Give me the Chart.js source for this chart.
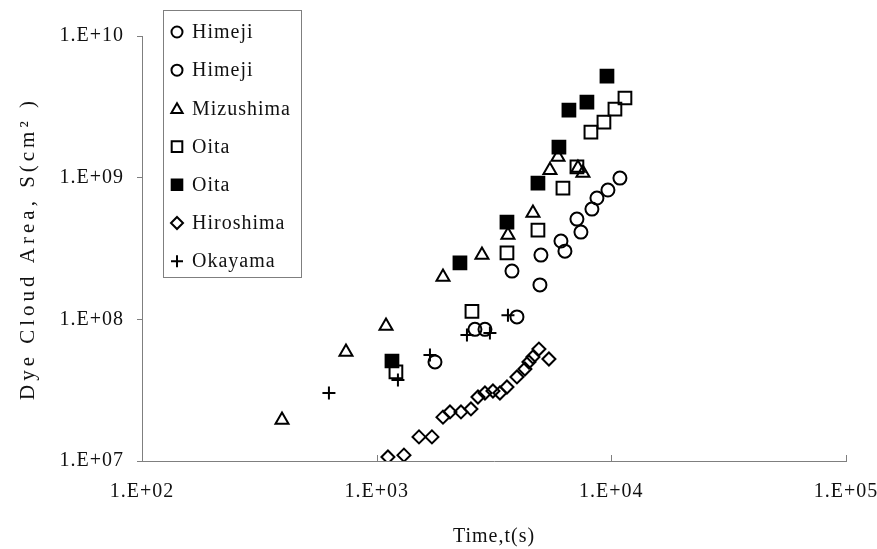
<!DOCTYPE html>
<html><head><meta charset="utf-8">
<script src="https://cdn.jsdelivr.net/npm/chart.js@4.4.0/dist/chart.umd.min.js"></script>
<style>html,body{margin:0;padding:0;background:#fff;}#wrap{width:877px;height:549px;position:relative;}</style>
</head><body><div id="wrap"><canvas id="c" width="877" height="549"></canvas></div>
<script>
// ---- data ----
const seriesNames = ['Himeji', 'Himeji', 'Mizushima', 'Oita', 'Oita', 'Hiroshima', 'Okayama'];

const himejiA_t = [1772, 2623, 2894, 3961];
const himejiA_S = [5.0e7, 8.5e7, 8.5e7, 1.04e8];

const himejiB_t = [3772, 4963, 5012, 6100, 6343, 7135, 7421, 8266, 8683, 9672, 10880];
const himejiB_S = [2.19e8, 1.75e8, 2.84e8, 3.57e8, 3.03e8, 5.10e8, 4.13e8, 6.0e8, 7.18e8, 8.18e8, 9.93e8];

const mizushima_t = [395, 740, 1096, 1917, 2810, 3626, 4634, 5475, 5923, 7206, 7568];
const mizushima_S = [1.95e7, 5.88e7, 8.97e7, 1.99e8, 2.84e8, 3.94e8, 5.62e8, 1.13e9, 1.40e9, 1.17e9, 1.08e9];

const oitaOpen_t = [1208, 2547, 3591, 4867, 6220, 7135, 8185, 9300, 10360, 11430];
const oitaOpen_S = [4.25e7, 1.14e8, 2.94e8, 4.27e8, 8.45e8, 1.19e9, 2.10e9, 2.47e9, 3.05e9, 3.65e9];

const oitaFilled_t = [1162, 2264, 3591, 4867, 5980, 6596, 7870, 9580];
const oitaFilled_S = [5.08e7, 2.50e8, 4.86e8, 9.16e8, 1.64e9, 3.0e9, 3.42e9, 5.21e9];

const hiroshima_t = [1117, 1307, 1515, 1720, 1917, 2053, 2287, 2522, 2702, 2894, 3130, 3352, 3591, 3961, 4283, 4456, 4634, 4914, 5421];
const hiroshima_S = [1.067e7, 1.10e7, 1.48e7, 1.48e7, 2.04e7, 2.22e7, 2.22e7, 2.33e7, 2.83e7, 3.02e7, 3.12e7, 3.02e7, 3.33e7, 3.92e7, 4.46e7, 5.0e7, 5.42e7, 6.17e7, 5.25e7];

const okayama_t = [626, 1232, 1687, 2425, 3038, 3626];
const okayama_S = [3.02e7, 3.73e7, 5.60e7, 7.75e7, 8.0e7, 1.07e8];

const xTickValues = [1e2, 1e3, 1e4, 1e5];
const xTickLabels = ['1.E+02', '1.E+03', '1.E+04', '1.E+05'];
const yTickValues = [1e7, 1e8, 1e9, 1e10];
const yTickLabels = ['1.E+07', '1.E+08', '1.E+09', '1.E+10'];
const xTitle = 'Time,t(s)';
const yTitle = 'Dye Cloud Area, S(cm² )';

// ---- build ----
const pts = (t, s) => t.map((v, i) => ({x: v, y: s[i]}));
const FONT = "'Liberation Serif', 'Times New Roman', serif";
const AXIS = '#7f7f7f';

const styles = [
  {pointStyle: 'circle', radius: 6.5, fill: 'rgba(0,0,0,0)', lr: 5.5},
  {pointStyle: 'circle', radius: 6.5, fill: 'rgba(0,0,0,0)', lr: 5.5},
  {pointStyle: 'triangle', radius: 7.5, fill: 'rgba(0,0,0,0)', lr: 6.5},
  {pointStyle: 'rect', radius: 9, fill: 'rgba(0,0,0,0)', lr: 7.5},
  {pointStyle: 'rect', radius: 9, fill: '#000', lr: 7.5},
  {pointStyle: 'rectRot', radius: 6.5, fill: 'rgba(0,0,0,0)', lr: 6},
  {pointStyle: 'cross', radius: 6.5, fill: 'rgba(0,0,0,0)', lr: 6}
];
const series = [
  pts(himejiA_t, himejiA_S), pts(himejiB_t, himejiB_S), pts(mizushima_t, mizushima_S),
  pts(oitaOpen_t, oitaOpen_S), pts(oitaFilled_t, oitaFilled_S),
  pts(hiroshima_t, hiroshima_S), pts(okayama_t, okayama_S)
];
const datasets = series.map((d, i) => ({
  label: seriesNames[i],
  data: d,
  showLine: false,
  pointStyle: styles[i].pointStyle,
  pointRadius: styles[i].radius,
  pointHoverRadius: styles[i].radius,
  pointBorderWidth: 2,
  pointBorderColor: '#000',
  pointBackgroundColor: styles[i].fill,
  borderColor: '#000',
  backgroundColor: styles[i].fill
}));

function drawMarker(ctx, style, x, y, r, fill) {
  ctx.save();
  ctx.lineWidth = 2;
  ctx.strokeStyle = '#000';
  ctx.fillStyle = fill;
  ctx.beginPath();
  if (style === 'circle') {
    ctx.arc(x, y, r, 0, Math.PI * 2);
  } else if (style === 'triangle') {
    for (let k = 0; k < 3; k++) {
      const a = -Math.PI / 2 + k * 2 * Math.PI / 3;
      const px = x + Math.cos(a) * r, py = y + r * 0.2 + Math.sin(a) * r;
      k ? ctx.lineTo(px, py) : ctx.moveTo(px, py);
    }
    ctx.closePath();
  } else if (style === 'rect') {
    const s = r * Math.SQRT1_2;
    ctx.rect(x - s, y - s, 2 * s, 2 * s);
  } else if (style === 'rectRot') {
    ctx.moveTo(x, y - r); ctx.lineTo(x + r, y); ctx.lineTo(x, y + r); ctx.lineTo(x - r, y); ctx.closePath();
  } else if (style === 'cross') {
    ctx.moveTo(x - r, y); ctx.lineTo(x + r, y); ctx.moveTo(x, y - r); ctx.lineTo(x, y + r);
  }
  if (style !== 'cross') ctx.fill();
  ctx.stroke();
  ctx.restore();
}

const decor = {
  id: 'decor',
  beforeDraw(chart) { chart.ctx.letterSpacing = '1px'; },
  afterDraw(chart) {
    const ctx = chart.ctx;
    const xs = chart.scales.x, ys = chart.scales.y;
    // inside tick marks on the x axis
    ctx.save();
    ctx.strokeStyle = AXIS; ctx.lineWidth = 1;
    xTickValues.forEach(v => {
      const px = Math.round(xs.getPixelForValue(v)) + 0.5;
      ctx.beginPath(); ctx.moveTo(px, ys.bottom); ctx.lineTo(px, ys.bottom - 6); ctx.stroke();
    });
    ctx.restore();
    // y axis title (letter-spaced)
    ctx.save();
    ctx.translate(28, (ys.top + ys.bottom) / 2);
    ctx.rotate(-Math.PI / 2);
    ctx.font = '21px ' + FONT;
    ctx.letterSpacing = '4px';
    ctx.fillStyle = '#111';
    ctx.textAlign = 'center'; ctx.textBaseline = 'middle';
    ctx.fillText(yTitle, 0, 0);
    ctx.restore();
    // legend box
    ctx.save();
    ctx.fillStyle = '#fff';
    ctx.fillRect(164, 11, 137, 266);
    ctx.strokeStyle = AXIS; ctx.lineWidth = 1;
    ctx.strokeRect(163.5, 10.5, 138, 267);
    ctx.font = '20px ' + FONT;
    ctx.letterSpacing = '1px';
    ctx.fillStyle = '#111';
    ctx.textAlign = 'left'; ctx.textBaseline = 'middle';
    chart.data.datasets.forEach((ds, i) => {
      const yy = 32 + i * 38.2;
      drawMarker(ctx, styles[i].pointStyle, 177, yy, styles[i].lr, styles[i].fill);
      ctx.fillText(ds.label, 192, yy + 1);
    });
    ctx.restore();
  }
};

Chart.defaults.font.family = FONT;
Chart.defaults.font.size = 20;
Chart.defaults.color = '#111';

new Chart(document.getElementById('c'), {
  type: 'scatter',
  data: {datasets},
  options: {
    responsive: false,
    devicePixelRatio: 1,
    animation: false,
    layout: {padding: {left: 0, top: 36, right: 31, bottom: 0}},
    plugins: {legend: {display: false}, tooltip: {enabled: false}},
    scales: {
      x: {
        type: 'logarithmic', min: 1e2, max: 1e5,
        afterBuildTicks: s => { s.ticks = xTickValues.map(v => ({value: v})); },
        afterFit: s => { s.height = 88; s.paddingLeft = 0; s.paddingRight = 0; },
        ticks: {padding: 19, callback: (v) => xTickLabels[xTickValues.indexOf(v)] ?? '', maxRotation: 0, autoSkip: false},
        grid: {display: true, drawOnChartArea: false, drawTicks: false},
        border: {display: true, color: AXIS, width: 1},
        title: {display: true, text: xTitle, font: {size: 20}, padding: {top: 0, bottom: 0}}
      },
      y: {
        type: 'logarithmic', min: 1e7, max: 1e10,
        afterBuildTicks: s => { s.ticks = yTickValues.map(v => ({value: v})); },
        afterFit: s => { s.width = 142; s.paddingTop = 0; s.paddingBottom = 0; },
        ticks: {padding: 13, callback: (v) => yTickLabels[yTickValues.indexOf(v)] ?? '', autoSkip: false},
        grid: {display: true, drawOnChartArea: false, drawTicks: true, tickLength: 5, color: AXIS},
        border: {display: true, color: AXIS, width: 1}
      }
    }
  },
  plugins: [decor]
});
</script></body></html>
